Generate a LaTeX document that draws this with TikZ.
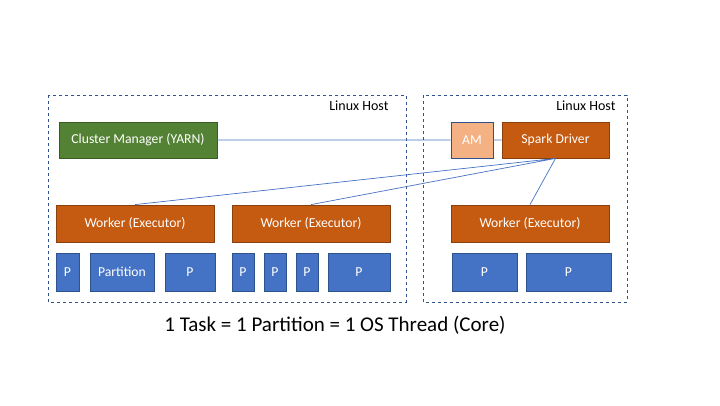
\documentclass[tikz,border=0pt]{standalone}
\usepackage{fontspec}
\setmainfont{Carlito}
\usetikzlibrary{positioning}
\definecolor{yarngreen}{HTML}{548235}
\definecolor{sparkorange}{HTML}{C55A11}
\definecolor{amorange}{HTML}{F4B183}
\definecolor{partblue}{HTML}{4472C4}
\definecolor{edgeblue}{HTML}{2F528F}
\tikzset{
  box/.style={rectangle,draw,line width=0.8pt,inner sep=0pt,text=white,
    font=\fontsize{13.7}{16}\selectfont,minimum height=36pt},
  manager/.style={box,fill=yarngreen,draw=yarngreen!70!black},
  driver/.style={box,fill=sparkorange,draw=sparkorange!70!black},
  appmaster/.style={box,fill=amorange,draw=edgeblue},
  part/.style={box,fill=partblue,draw=edgeblue,minimum height=38pt},
  host/.style={draw=edgeblue,dashed,line width=0.6pt},
  hostlabel/.style={anchor=east,font=\fontsize{14}{16}\selectfont},
  link/.style={draw=partblue,line width=0.7pt}
}
\begin{document}
\begin{tikzpicture}[x=1pt,y=-1pt]
  \useasboundingbox (0,0) rectangle (720,405);

  % hosts
  \draw[host] (48,95) rectangle (406,302);
  \draw[host] (423,95) rectangle (627,302);
  \node[hostlabel] (lefthost) at (392,106) {Linux Host};
  \node[hostlabel] (righthost) at (619,106) {Linux Host};

  % top row
  \node[manager,minimum width=158pt] (yarn) at (138,140) {Cluster Manager (YARN)};
  \node[appmaster,minimum width=42pt] (am) at (472,140) {AM};
  \node[driver,minimum width=107pt] (sd) at (555.5,140) {Spark Driver};

  % workers
  \node[driver,minimum width=158pt,minimum height=37pt] (w1) at (135,223.5) {Worker (Executor)};
  \node[driver,minimum width=158pt,minimum height=37pt] (w2) at (311,223.5) {Worker (Executor)};
  \node[driver,minimum width=158pt,minimum height=37pt] (w3) at (530,223.5) {Worker (Executor)};

  % partitions
  \node[part,minimum width=23pt] (p1) at (67.5,272) {P};
  \node[part,minimum width=64pt] (p2) at (122,272) {Partition};
  \node[part,minimum width=50pt] (p3) at (190,272) {P};
  \node[part,minimum width=22pt] (p4) at (243,272) {P};
  \node[part,minimum width=22pt] (p5) at (275,272) {P};
  \node[part,minimum width=22pt] (p6) at (307,272) {P};
  \node[part,minimum width=62pt] (p7) at (359,272) {P};
  \node[part,minimum width=65pt] (p8) at (484.5,272) {P};
  \node[part,minimum width=85pt] (p9) at (568.5,272) {P};

  \path[link]
  (yarn) -- (am)
  (am) -- (sd)
  (sd.south) -- (w1.north)
  (sd.south) -- (w2.north)
  (sd.south) -- (w3.north);

  \node[font=\fontsize{21}{25}\selectfont] (rule) at (335,325) {1 Task = 1 Partition = 1 OS Thread (Core)};
\end{tikzpicture}
\end{document}
